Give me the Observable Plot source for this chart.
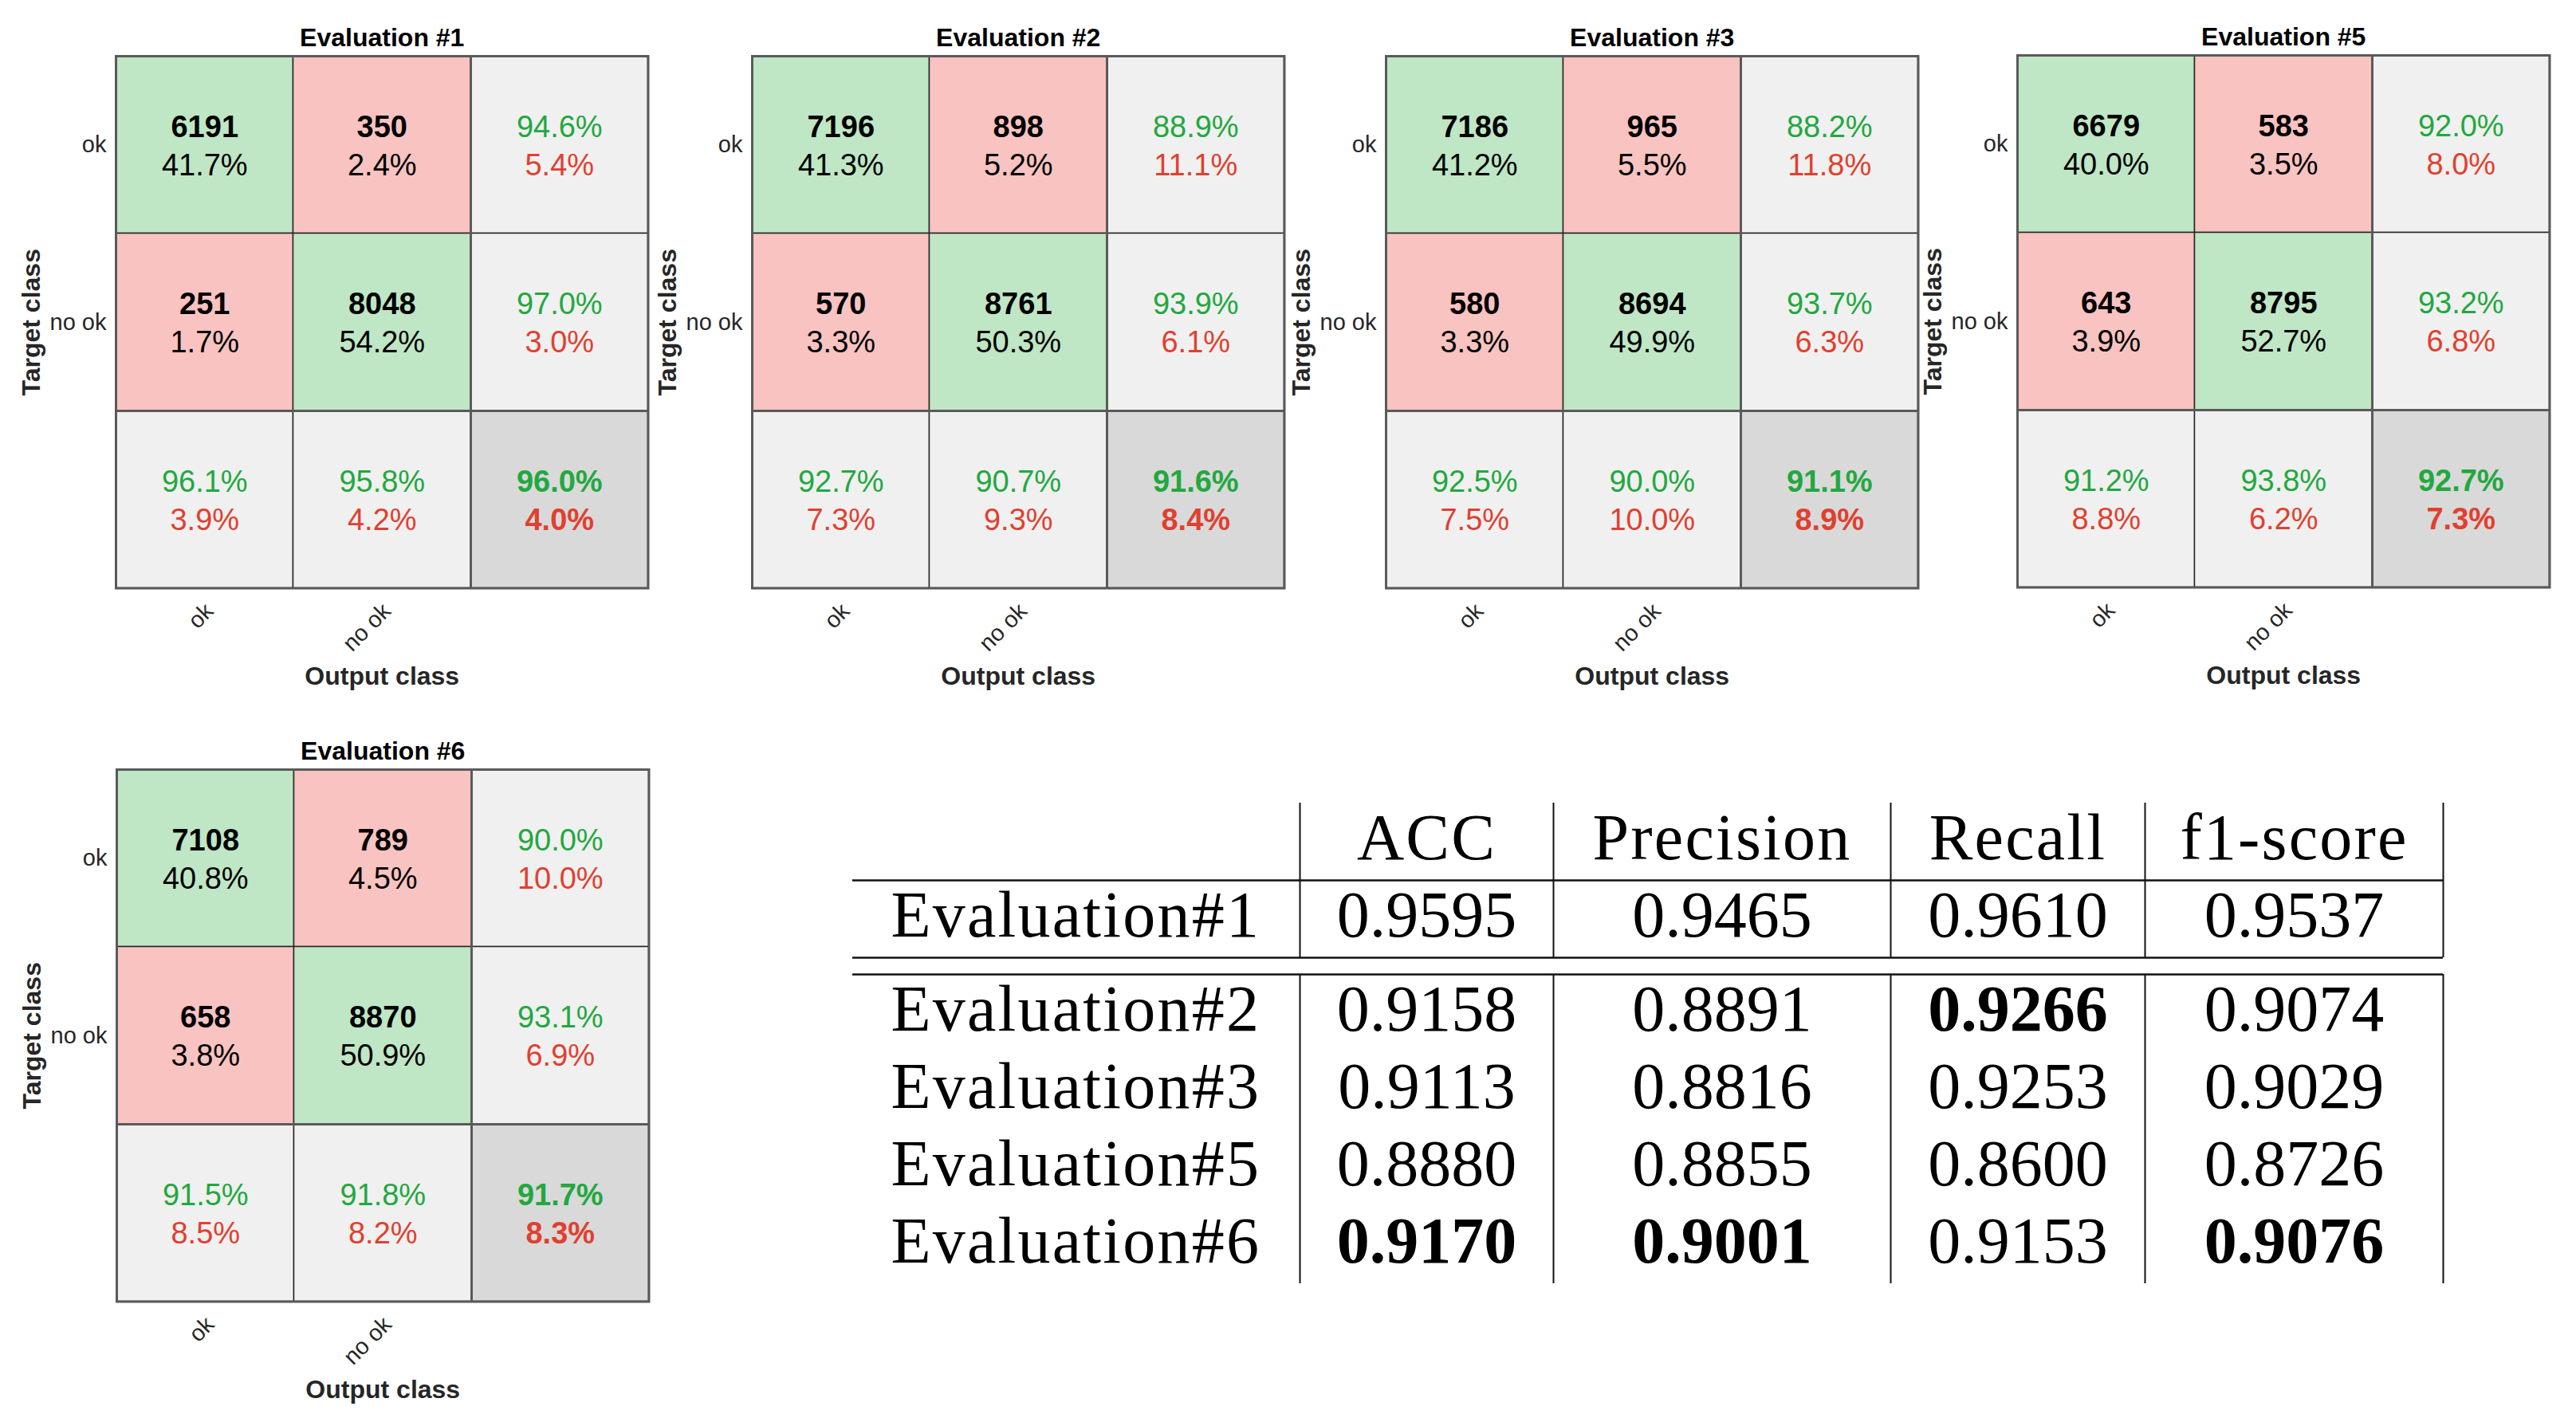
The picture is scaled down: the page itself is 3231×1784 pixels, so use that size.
<!DOCTYPE html>
<html>
<head>
<meta charset="utf-8">
<script src="https://cdn.jsdelivr.net/npm/d3@7"></script>
<script src="https://cdn.jsdelivr.net/npm/@observablehq/plot@0.6"></script>
<style>
  html, body { margin: 0; padding: 0; background: #ffffff; }
  #page { position: relative; width: 3231px; height: 1784px; background: #ffffff; overflow: hidden; }
  .panel { position: absolute; }
  .panel svg { overflow: visible; }
</style>
</head>
<body>
<div id="page"></div>
<script>
// ---------------- DATA ----------------
const evalTitles = ["Evaluation #1", "Evaluation #2", "Evaluation #3", "Evaluation #5", "Evaluation #6"];
const classLabels = ["ok", "no ok"];

// counts per matrix: [ok->ok, ok->no ok, no ok->ok, no ok->no ok]
const counts = [
  [6191, 350, 251, 8048],
  [7196, 898, 570, 8761],
  [7186, 965, 580, 8694],
  [6679, 583, 643, 8795],
  [7108, 789, 658, 8870]
];
const cellPercents = [
  [41.7, 2.4, 1.7, 54.2],
  [41.3, 5.2, 3.3, 50.3],
  [41.2, 5.5, 3.3, 49.9],
  [40.0, 3.5, 3.9, 52.7],
  [40.8, 4.5, 3.8, 50.9]
];
// right column (per target row)
const rowGood = [[94.6, 97.0], [88.9, 93.9], [88.2, 93.7], [92.0, 93.2], [90.0, 93.1]];
const rowBad  = [[5.4, 3.0], [11.1, 6.1], [11.8, 6.3], [8.0, 6.8], [10.0, 6.9]];
// bottom row (per output column)
const colGood = [[96.1, 95.8], [92.7, 90.7], [92.5, 90.0], [91.2, 93.8], [91.5, 91.8]];
const colBad  = [[3.9, 4.2], [7.3, 9.3], [7.5, 10.0], [8.8, 6.2], [8.5, 8.2]];
// overall
const totalGood = [96.0, 91.6, 91.1, 92.7, 91.7];
const totalBad  = [4.0, 8.4, 8.9, 7.3, 8.3];

// table
const tableRowLabels = ["Evaluation#1", "Evaluation#2", "Evaluation#3", "Evaluation#5", "Evaluation#6"];
const tableColLabels = ["ACC", "Precision", "Recall", "f1-score"];
const accValues       = [0.9595, 0.9158, 0.9113, 0.8880, 0.9170];
const precisionValues = [0.9465, 0.8891, 0.8816, 0.8855, 0.9001];
const recallValues    = [0.9610, 0.9266, 0.9253, 0.8600, 0.9153];
const f1Values        = [0.9537, 0.9074, 0.9029, 0.8726, 0.9076];

// ---------------- STYLE / LAYOUT ----------------
const colors = {
  good: "#bfe6c5", bad: "#f8c3c0", total: "#f0f0f0", corner: "#d9d9d9",
  goodText: "#22a83f", badText: "#e0402f", ink: "#000000", grid: "#262626", frame: "#5a5a5a"
};
const panelLayout = {
  cell: 222.5, mLeft: 145, mTop: 70, mRight: 30, mBottom: 150,
  frames: [[145, 70], [943, 70], [1738, 70], [2530, 69], [146, 965]]
};
const tableLayout = {
  left: 1069, top: 1007, colWidths: [561, 318, 423, 319, 374],
  rowHeight: 97, gap: 21, baseline: 70, labelIndent: 48, fontSize: 82, labelSpacing: "2.2px"
};

const page = document.getElementById("page");
const fmtPct = v => v.toFixed(1) + "%";

function confusionPlot(k) {
  const cells = [];
  const texts = [];
  for (let r = 0; r < 3; r++) {
    for (let c = 0; c < 3; c++) {
      let fill, t1, t2, col1, col2, bold1, bold2;
      if (r < 2 && c < 2) {
        fill = r === c ? colors.good : colors.bad;
        t1 = String(counts[k][r * 2 + c]); t2 = fmtPct(cellPercents[k][r * 2 + c]);
        col1 = colors.ink; col2 = colors.ink; bold1 = true; bold2 = false;
      } else if (r < 2 && c === 2) {
        fill = colors.total; t1 = fmtPct(rowGood[k][r]); t2 = fmtPct(rowBad[k][r]);
        col1 = colors.goodText; col2 = colors.badText; bold1 = false; bold2 = false;
      } else if (r === 2 && c < 2) {
        fill = colors.total; t1 = fmtPct(colGood[k][c]); t2 = fmtPct(colBad[k][c]);
        col1 = colors.goodText; col2 = colors.badText; bold1 = false; bold2 = false;
      } else {
        fill = colors.corner; t1 = fmtPct(totalGood[k]); t2 = fmtPct(totalBad[k]);
        col1 = colors.goodText; col2 = colors.badText; bold1 = true; bold2 = true;
      }
      cells.push({r, c, fill});
      texts.push({x: c + 0.5, y: r + 0.5, text: t1, color: col1, bold: bold1, line: 1});
      texts.push({x: c + 0.5, y: r + 0.5, text: t2, color: col2, bold: bold2, line: 2});
    }
  }
  const L = panelLayout;
  const size = L.cell * 3;
  const textMark = (line, bold, dy) => Plot.text(texts, {
    filter: d => d.line === line && d.bold === bold,
    x: "x", y: "y", text: "text", fill: "color",
    fontWeight: bold ? "bold" : "normal", fontSize: 38, lineAnchor: "bottom", dy
  });
  return Plot.plot({
    width: L.mLeft + size + L.mRight,
    height: L.mTop + size + L.mBottom,
    marginLeft: L.mLeft, marginTop: L.mTop, marginRight: L.mRight, marginBottom: L.mBottom,
    style: {fontFamily: "'Liberation Sans', Arial, sans-serif", fontSize: "29px", color: "#262626", background: "transparent", overflow: "visible"},
    x: {type: "linear", domain: [0, 3], axis: null},
    y: {type: "linear", domain: [0, 3], reverse: true, axis: null},
    color: {type: "identity"},
    marks: [
      Plot.rect(cells, {x1: "c", x2: d => d.c + 1, y1: "r", y2: d => d.r + 1, fill: "fill", stroke: colors.grid, strokeWidth: 1.5}),
      Plot.ruleX([2], {y1: 0, y2: 3, stroke: colors.frame, strokeWidth: 3}),
      Plot.ruleY([2], {x1: 0, x2: 3, stroke: colors.frame, strokeWidth: 3}),
      Plot.frame({stroke: colors.frame, strokeWidth: 3}),
      textMark(1, true, -10), textMark(1, false, -10),
      textMark(2, true, 38), textMark(2, false, 38),
      Plot.axisY({ticks: [0.5, 1.5], tickFormat: v => classLabels[Math.floor(v)], tickSize: 0, tickPadding: 12, fontSize: 29, label: null}),
      Plot.axisX({ticks: [0.5, 1.5], tickFormat: v => classLabels[Math.floor(v)], tickSize: 0, tickPadding: 24, tickRotate: -45, fontSize: 29, dx: 6, label: null}),
      Plot.text([evalTitles[k]], {text: d => d, frameAnchor: "top", lineAnchor: "bottom", dy: -13, fontWeight: "bold", fontSize: 32, fill: colors.ink}),
      Plot.text(["Target class"], {text: d => d, frameAnchor: "left", textAnchor: "middle", rotate: -90, dx: -106, fontWeight: "bold", fontSize: 32, fill: "#262626"}),
      Plot.text(["Output class"], {text: d => d, frameAnchor: "bottom", lineAnchor: "bottom", dy: 121, fontWeight: "bold", fontSize: 32, fill: "#262626"})
    ]
  });
}

evalTitles.forEach((t, k) => {
  const [fx, fy] = panelLayout.frames[k];
  const wrap = document.createElement("div");
  wrap.className = "panel";
  wrap.style.left = (fx - panelLayout.mLeft) + "px";
  wrap.style.top = (fy - panelLayout.mTop) + "px";
  wrap.appendChild(confusionPlot(k));
  page.appendChild(wrap);
});

// ---------------- TABLE ----------------
function tablePlot() {
  const T = tableLayout;
  const edges = [0];
  T.colWidths.forEach(w => edges.push(edges[edges.length - 1] + w));
  const W = edges[edges.length - 1];
  const centers = edges.slice(0, -1).map((e, i) => (e + edges[i + 1]) / 2);
  // row tops: header, row1, [gap], rows 2..5
  const rowTops = [0, T.rowHeight];
  const afterFirst = 2 * T.rowHeight + T.gap;
  for (let i = 0; i < tableRowLabels.length - 1; i++) rowTops.push(afterFirst + i * T.rowHeight);
  const H = afterFirst + (tableRowLabels.length - 1) * T.rowHeight;
  const firstBlockBottom = 2 * T.rowHeight;

  const metricSeries = [accValues, precisionValues, recallValues, f1Values];
  const best = metricSeries.map(s => d3.max(s.slice(1)));
  const labelsT = [];
  const numbersT = [];
  tableColLabels.forEach((lab, j) => labelsT.push({x: centers[j + 1], y: rowTops[0] + T.baseline, text: lab, anchor: "middle"}));
  tableRowLabels.forEach((lab, i) => {
    const y = rowTops[i + 1] + T.baseline;
    labelsT.push({x: T.labelIndent, y, text: lab, anchor: "start"});
    metricSeries.forEach((s, j) => {
      numbersT.push({x: centers[j + 1], y, text: s[i].toFixed(4), bold: i > 0 && s[i] === best[j]});
    });
  });
  const m = 10;
  const common = {x: "x", y: "y", text: "text", lineAnchor: "bottom", fontSize: T.fontSize, fill: "#000"};
  const plot = Plot.plot({
    width: W + 2 * m, height: H + 2 * m,
    marginLeft: m, marginRight: m, marginTop: m, marginBottom: m,
    style: {fontFamily: "'Liberation Serif', 'Times New Roman', serif", background: "transparent", overflow: "visible"},
    x: {type: "linear", domain: [0, W], axis: null},
    y: {type: "linear", domain: [0, H], reverse: true, axis: null},
    marks: [
      Plot.ruleX(edges.slice(1), {y1: 0, y2: firstBlockBottom, stroke: "#111", strokeWidth: 2}),
      Plot.ruleX(edges.slice(1), {y1: afterFirst, y2: H, stroke: "#111", strokeWidth: 2}),
      Plot.ruleY([T.rowHeight, firstBlockBottom, afterFirst], {x1: 0, x2: W, stroke: "#111", strokeWidth: 2.6}),
      Plot.text(labelsT, {...common, filter: d => d.anchor === "middle", textAnchor: "middle"}),
      Plot.text(labelsT, {...common, filter: d => d.anchor === "start", textAnchor: "start"}),
      Plot.text(numbersT, {...common, filter: d => !d.bold, textAnchor: "middle", fontWeight: "normal"}),
      Plot.text(numbersT, {...common, filter: d => d.bold, textAnchor: "middle", fontWeight: "bold"})
    ]
  });
  // widen the label glyph spacing (LaTeX Computer Modern is wider than the serif used here)
  const labelSet = new Set([...tableRowLabels, ...tableColLabels]);
  d3.select(plot).selectAll("text")
    .filter(function () { return labelSet.has(this.textContent); })
    .style("letter-spacing", T.labelSpacing);
  const wrap = document.createElement("div");
  wrap.className = "panel";
  wrap.style.left = (T.left - m) + "px";
  wrap.style.top = (T.top - m) + "px";
  wrap.appendChild(plot);
  page.appendChild(wrap);
}
tablePlot();
</script>
</body>
</html>
